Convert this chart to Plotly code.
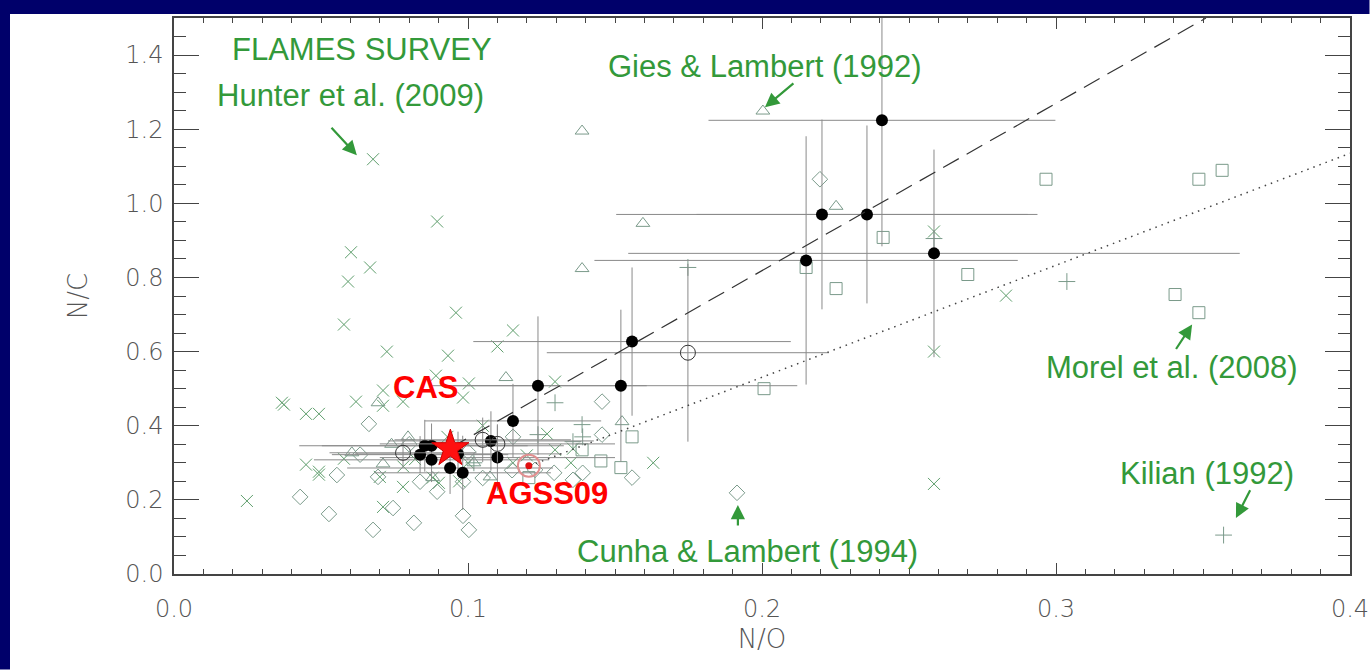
import plotly.graph_objects as go

# FLAMES survey, Hunter et al. (2009)
hunter_no = [0.0677, 0.0895, 0.0602, 0.0667, 0.0592, 0.0959, 0.0578, 0.1153, 0.0724, 0.110,
             0.0932, 0.0891, 0.1003, 0.1296, 0.0711, 0.0367, 0.0374, 0.0449, 0.0493, 0.0619,
             0.0711, 0.0779, 0.0983, 0.1269, 0.1296, 0.1357, 0.163, 0.0449, 0.0493, 0.0493,
             0.0578, 0.0779, 0.0711, 0.0248, 0.0901, 0.070, 0.105, 0.2585, 0.2585, 0.2585,
             0.283, 0.1153, 0.093, 0.100, 0.088, 0.097, 0.078, 0.082, 0.120, 0.135]
hunter_nc = [1.119, 0.951, 0.868, 0.827, 0.789, 0.705, 0.673, 0.657, 0.600, 0.614,
             0.589, 0.535, 0.514, 0.519, 0.495, 0.462, 0.457, 0.432, 0.432, 0.465,
             0.454, 0.465, 0.476, 0.378, 0.335, 0.338, 0.300, 0.295, 0.276, 0.268,
             0.311, 0.235, 0.181, 0.197, 0.246, 0.262, 0.400, 0.924, 0.600, 0.243,
             0.751, 0.300, 0.370, 0.300, 0.260, 0.250, 0.290, 0.310, 0.320, 0.300]

# Cunha & Lambert (1994)
cunha_no = [0.2197, 0.1915, 0.0663, 0.0633, 0.0554, 0.0429, 0.0527, 0.0677, 0.0745, 0.0816,
            0.0983, 0.1003, 0.0837, 0.0895, 0.0983, 0.105, 0.1153, 0.1293, 0.1357, 0.139,
            0.1456, 0.1456, 0.1558, 0.0694, 0.1228, 0.080, 0.100, 0.115]
cunha_nc = [1.065, 0.219, 0.405, 0.322, 0.267, 0.208, 0.162, 0.119, 0.178, 0.138,
            0.157, 0.119, 0.249, 0.222, 0.249, 0.259, 0.370, 0.273, 0.254, 0.273,
            0.465, 0.376, 0.260, 0.262, 0.281, 0.350, 0.330, 0.280]

# Gies & Lambert (1992)
gies_no = [0.2003, 0.1388, 0.1595, 0.1388, 0.2252, 0.1129, 0.0694, 0.1524, 0.0605, 0.0711,
           0.0796, 0.1075, 0.102, 0.088, 0.074]
gies_nc = [1.249, 1.195, 0.946, 0.824, 0.992, 0.530, 0.462, 0.411, 0.327, 0.297,
           0.370, 0.262, 0.300, 0.260, 0.350]

# Morel et al. (2008)
morel_no = [0.2966, 0.3486, 0.3405, 0.3486, 0.3565, 0.2412, 0.270, 0.2252, 0.215, 0.2007,
            0.1558, 0.1388, 0.1452, 0.152, 0.1207]
morel_nc = [1.065, 0.705, 0.754, 1.065, 1.089, 0.908, 0.808, 0.770, 0.827, 0.500,
            0.370, 0.335, 0.305, 0.287, 0.260]

# Kilian (1992)
kilian_no = [0.357, 0.1748, 0.3037, 0.2585, 0.1296, 0.1388, 0.139, 0.1238, 0.1357, 0.102]
kilian_nc = [0.105, 0.827, 0.789, 0.905, 0.462, 0.403, 0.370, 0.376, 0.357, 0.300]

# Stars with uncertainties (filled)
star_no = [0.2408, 0.2204, 0.2357, 0.2150, 0.2585, 0.1558, 0.1520, 0.1238, 0.1153, 0.1078,
           0.1100, 0.0982, 0.0939, 0.0876, 0.0853, 0.0876, 0.0837, 0.0966]
star_nc = [1.224, 0.970, 0.970, 0.846, 0.865, 0.627, 0.508, 0.508, 0.413, 0.359,
           0.314, 0.273, 0.286, 0.308, 0.346, 0.346, 0.322, 0.324]
star_no_err = [0.059, 0.070, 0.058, 0.072, 0.104, 0.054, 0.060, 0.037, 0.030, 0.035,
               0.040, 0.030, 0.035, 0.040, 0.035, 0.045, 0.030, 0.035]
star_nc_err = [0.34, 0.256, 0.24, 0.335, 0.28, 0.20, 0.205, 0.187, 0.10, 0.08,
               0.09, 0.10, 0.07, 0.06, 0.07, 0.06, 0.05, 0.06]

# Stars with uncertainties (open)
open_no = [0.0779, 0.1050, 0.1100, 0.1748]
open_nc = [0.327, 0.362, 0.351, 0.597]
open_no_err = [0.025, 0.030, 0.040, 0.048]
open_nc_err = [0.04, 0.06, 0.05, 0.24]

# Reference compositions
cas_no, cas_nc = 0.094, 0.338
sun_no, sun_nc = 0.1207, 0.292

# Mixing lines
dash_no = [0.094, 0.351]
dash_nc = [0.340, 1.500]
dot_no = [0.121, 0.400]
dot_nc = [0.292, 1.135]

GREEN_TXT = "#33993a"
X_COL = "#5e9e6c"
SYM_COL = "#7a9a8a"
ERR_COL = "#8a8a8a"

fig = go.Figure()

def sample(xs, ys, symbol, color, size):
    fig.add_trace(go.Scatter(
        x=xs, y=ys, mode="markers",
        marker=dict(symbol=symbol, size=size, color=color,
                    line=dict(color=color, width=1)),
        showlegend=False, hoverinfo="skip"))

sample(hunter_no, hunter_nc, "x-thin-open", X_COL, 12)
sample(cunha_no, cunha_nc, "diamond-open", SYM_COL, 12)
sample(gies_no, gies_nc, "triangle-up-open", SYM_COL, 12)
sample(morel_no, morel_nc, "square-open", SYM_COL, 12)
sample(kilian_no, kilian_nc, "cross-thin-open", SYM_COL, 12)

fig.add_trace(go.Scatter(
    x=star_no, y=star_nc, mode="markers",
    error_x=dict(type="data", array=star_no_err, color=ERR_COL, thickness=1, width=0),
    error_y=dict(type="data", array=star_nc_err, color=ERR_COL, thickness=1, width=0),
    marker=dict(symbol="circle", size=12, color="black"),
    showlegend=False, hoverinfo="skip"))

fig.add_trace(go.Scatter(
    x=open_no, y=open_nc, mode="markers",
    error_x=dict(type="data", array=open_no_err, color=ERR_COL, thickness=1, width=0),
    error_y=dict(type="data", array=open_nc_err, color=ERR_COL, thickness=1, width=0),
    marker=dict(symbol="circle-open", size=15, color="#333", line=dict(width=1)),
    showlegend=False, hoverinfo="skip"))

fig.add_trace(go.Scatter(x=dash_no, y=dash_nc, mode="lines",
                         line=dict(color="#333", width=1.2, dash="18px,9px"),
                         showlegend=False, hoverinfo="skip"))
fig.add_trace(go.Scatter(x=dot_no, y=dot_nc, mode="lines",
                         line=dict(color="#444", width=1.5, dash="1.5px,5px"),
                         showlegend=False, hoverinfo="skip"))

fig.add_trace(go.Scatter(x=[sun_no], y=[sun_nc], mode="markers",
                         marker=dict(symbol="circle-open", size=22, color="#e09090",
                                     line=dict(width=2)),
                         showlegend=False, hoverinfo="skip"))
fig.add_trace(go.Scatter(x=[sun_no], y=[sun_nc], mode="markers",
                         marker=dict(symbol="circle", size=7, color="#e01010"),
                         showlegend=False, hoverinfo="skip"))
fig.add_trace(go.Scatter(x=[cas_no], y=[cas_nc], mode="markers",
                         marker=dict(symbol="star", size=28, color="#ff1010",
                                     line=dict(color="#cc0000", width=1)),
                         showlegend=False, hoverinfo="skip"))

# Labels
labels = [
    ("FLAMES SURVEY", 0.0639, 1.416, GREEN_TXT, False),
    ("Hunter et al. (2009)", 0.0599, 1.292, GREEN_TXT, False),
    ("Gies & Lambert (1992)", 0.2010, 1.370, GREEN_TXT, False),
    ("Morel et al. (2008)", 0.3395, 0.557, GREEN_TXT, False),
    ("Kilian (1992)", 0.3514, 0.270, GREEN_TXT, False),
    ("Cunha & Lambert (1994)", 0.1952, 0.062, GREEN_TXT, False),
    ("CAS", 0.0854, 0.503, "#ff0000", True),
    ("AGSS09", 0.1269, 0.216, "#ff0000", True),
]
for txt, x, y, col, bold in labels:
    fig.add_annotation(x=x, y=y, xref="x", yref="y", text=txt, showarrow=False,
                       xanchor="center", yanchor="middle",
                       font=dict(family="Liberation Sans, Arial, sans-serif", size=31,
                                 color=col, weight="bold" if bold else "normal"))

# Arrows: (head x, head y, tail x, tail y)
arrows = [
    (0.0622, 1.130, 0.0531, 1.208),
    (0.2010, 1.259, 0.2112, 1.327),
    (0.3463, 0.673, 0.3405, 0.603),
    (0.3612, 0.151, 0.3663, 0.230),
    (0.1918, 0.186, 0.1918, 0.127),
]
for hx, hy, tx, ty in arrows:
    fig.add_annotation(x=hx, y=hy, ax=tx, ay=ty, xref="x", yref="y", axref="x", ayref="y",
                       text="", showarrow=True, arrowhead=2, arrowsize=1.3,
                       arrowwidth=2.2, arrowcolor=GREEN_TXT, standoff=0, startstandoff=0)

# Tick labels sized so the last one ("0.4") stays inside the page
tick_font = dict(family="DejaVu Sans, sans-serif", size=24, color="#555", weight=200)
title_font = dict(family="DejaVu Sans, sans-serif", size=26, color="#555", weight=200)
common = dict(showgrid=False, zeroline=False, showline=True, linecolor="#444",
              linewidth=1.5, ticks="inside", tickcolor="#444", tickwidth=1.3,
              mirror="allticks", tickformat=".1f", tickfont=tick_font, automargin=False)

fig.update_xaxes(range=[0, 0.4], dtick=0.1, tick0=0, ticklen=11, ticklabelstandoff=12,
                 minor=dict(dtick=0.01, ticklen=5, ticks="inside", tickcolor="#444"),
                 title=dict(text="N/O", font=title_font, standoff=8), **common)
fig.update_yaxes(range=[0, 1.5], dtick=0.2, tick0=0, ticklen=25, ticklabelstandoff=4,
                 minor=dict(dtick=0.05, ticklen=12, ticks="inside", tickcolor="#444"),
                 title=dict(text="N/C", font=title_font, standoff=30), **common)

# Dark frame along the top and left edges, kept within the page box
NAVY = "#00006a"
W, H, L, T, PW, PH = 1370, 670, 174, 18, 1176, 556
fig.add_shape(type="rect", xref="paper", yref="paper",
              x0=-L / PW, x1=(W - 0.5 - L) / PW, y0=1 + (T - 14) / PH, y1=1 + T / PH,
              fillcolor=NAVY, line=dict(width=0), layer="above")
fig.add_shape(type="rect", xref="paper", yref="paper",
              x0=-L / PW, x1=(10 - L) / PW, y0=-(H - 0.5 - T - PH) / PH, y1=1 + T / PH,
              fillcolor=NAVY, line=dict(width=0), layer="above")

fig.update_layout(width=W, height=H, margin=dict(l=L, r=W - L - PW, t=T, b=H - T - PH),
                  paper_bgcolor="white", plot_bgcolor="white")

fig.write_html("out.html")
